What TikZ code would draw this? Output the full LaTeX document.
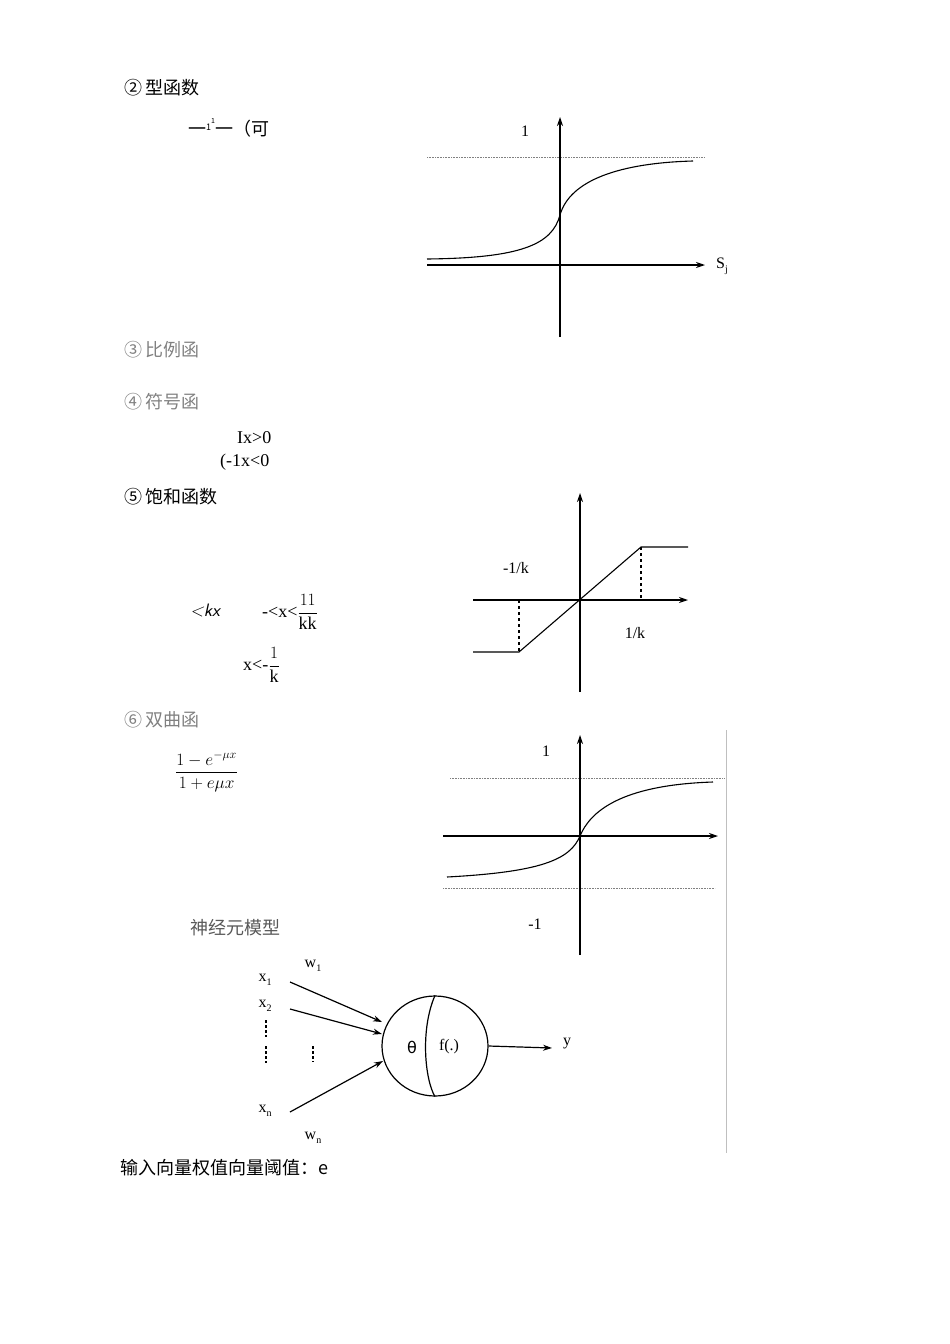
\documentclass[tikz,border=0pt]{standalone}
\usepackage{fontspec}
\setmainfont{Liberation Serif}
\newfontfamily\cjk{Noto Sans CJK SC}
\newfontfamily\dv{DejaVu Sans}
\usetikzlibrary{arrows.meta,shapes.geometric}
\newcommand\sbx[1]{\raisebox{-4pt}{\fontsize{10}{10}\selectfont #1}}
\begin{document}
\begin{tikzpicture}[x=1pt,y=-1pt,
 ax/.style={line width=1.2pt,-{Stealth[length=9pt,width=6pt]}},
 dot/.style={densely dotted,gray,line width=0.6pt},
 crv/.style={line width=1.1pt},
 lab/.style={font=\fontsize{16}{16}\selectfont,inner sep=0pt},
 cn/.style={font=\fontsize{18}{18}\selectfont\cjk,inner sep=0pt,anchor=west},
 tx/.style={font=\fontsize{18}{18}\selectfont,inner sep=0pt,anchor=west}]
\useasboundingbox (0,0) rectangle (950,1344);
% texts
\node[cn] (t2) at (124,88) {②\,型函数};
\node[cn] (f2) at (188,128) {一\raisebox{5pt}{\fontsize{9}{9}\selectfont 1}\raisebox{12pt}{\fontsize{7}{7}\selectfont 1}一（可};
\node[cn,gray] (t3) at (124,350) {③\,比例函};
\node[cn,gray] (t4) at (124,402) {④\,符号函};
\node[tx] (s1) at (237,438) {Ix>0};
\node[tx] (s2) at (220,462) {(-1x<0};
\node[cn] (t5) at (124,497) {⑤\,饱和函数};
\node[tx] (k1) at (190,610) {\sffamily\itshape <kx};
\node[tx] (k2) at (262,612) {-<x<$\displaystyle\frac{11}{\mathrm{kk}}$};
\node[tx] (k3) at (243,665) {x<-$\displaystyle\frac{1}{\mathrm{k}}$};
\node[cn,gray] (t6) at (124,720) {⑥\,双曲函};
\node[tx] (ff) at (175,772) {$\displaystyle\frac{1-e^{-\mu x}}{1+e\mu x}$};
\node[cn,gray!70!black] (nm) at (190,928) {神经元模型};
\node[cn] (bot) at (120,1168) {输入向量权值向量阈值：e};
% graph 1
\draw[dot] (427,157) -- (705,157);
\draw[ax] (560,337) -- (560,117);
\draw[ax] (427,265) -- (705,265);
\draw[crv] (427,259) .. controls (520,258) and (552,245) .. (560,215) .. controls (570,180) and (620,163) .. (693,161);
\node[lab] (l1) at (525,131) {1};
\node[lab] (sj) at (722,266) {S\sbx{j}};
% graph 2
\draw[ax] (580,692) -- (580,493);
\draw[ax] (473,600) -- (688,600);
\draw[crv] (473,652) -- (519,652) -- (641,547) -- (688,547);
\draw[dashed,line width=1.2pt] (519,600) -- (519,652);
\draw[dashed,line width=1.2pt] (641,547) -- (641,600);
\node[lab] (mk) at (516,568) {-1/k};
\node[lab] (pk) at (635,633) {1/k};
% graph 3
\draw[gray!50] (726,730) -- (726,1153);
\draw[dot] (450,778) -- (725,778);
\draw[dot] (443,888) -- (715,888);
\draw[ax] (580,955) -- (580,735);
\draw[ax] (443,836) -- (718,836);
\draw[crv] (447,877) .. controls (540,872) and (570,860) .. (580,836) .. controls (590,812) and (620,785) .. (713,782);
\node[lab] (o1) at (546,751) {1};
\node[lab] (m1) at (535,924) {-1};
% neuron
\node[draw,ellipse,line width=1.2pt,minimum width=106pt,minimum height=100pt,inner sep=0pt] (c) at (435,1046) {};
\draw[line width=1.2pt] (c.north) .. controls (420,1030) and (425,1080) .. (c.south);
\node[lab] (th) at (412,1047) {\dv θ};
\node[lab] (fx) at (449,1047) {f(.)};
\coordinate (a1) at (290,982); \coordinate (a2) at (290,1009); \coordinate (an) at (290,1112);
\coordinate (yo) at (552,1048);
\draw[ax] (a1) -- (382,1022);
\draw[ax] (a2) -- (382,1034);
\draw[ax] (an) -- (383,1061);
\draw[ax] (c.east) -- (yo);
\node[lab] (x1) at (265,980) {x\sbx{1}};
\node[lab] (x2) at (265,1006) {x\sbx{2}};
\node[lab] (xn) at (265,1111) {x\sbx{n}};
\node[lab] (w1) at (313,966) {w\sbx{1}};
\node[lab] (wn) at (313,1138) {w\sbx{n}};
\node[lab] (y) at (567,1044) {y};
\draw[densely dashed,line width=1.3pt] (266,1020) -- (266,1037) (266,1046) -- (266,1063) (313,1046) -- (313,1062);
\end{tikzpicture}
\end{document}
